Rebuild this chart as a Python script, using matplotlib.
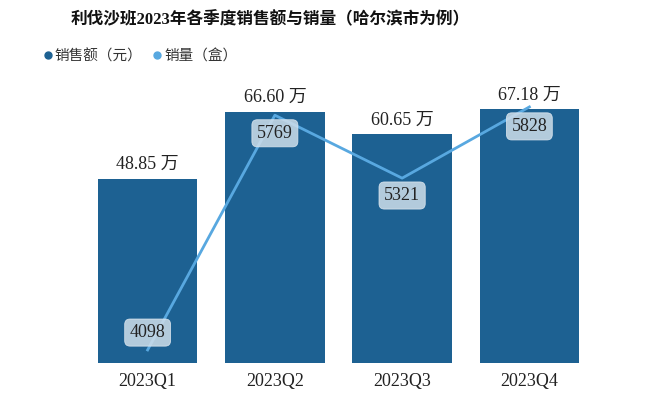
import matplotlib
matplotlib.use("Agg")
import matplotlib.pyplot as plt
from matplotlib.lines import Line2D

plt.rcParams['font.family'] = ['Liberation Serif', 'Noto Sans CJK SC', 'DejaVu Sans']

categories = ['2023Q1', '2023Q2', '2023Q3', '2023Q4']
sales_wan = [48.85, 66.60, 60.65, 67.18]
volume = [4098, 5769, 5321, 5828]
title = '利伐沙班2023年各季度销售额与销量（哈尔滨市为例）'
legend_labels = ['销售额（元）', '销量（盒）']

bar_color = '#1d6192'
line_color = '#58a8e0'
box_color = '#cfdeea'

fig = plt.figure(figsize=(6.51, 3.98), dpi=100)
ax = fig.add_axes([84/651, 35/398, 509/651, 268/398])
x = list(range(len(categories)))
ax.bar(x, sales_wan, width=0.78, color=bar_color, zorder=2)
ax.set_xlim(-0.5, 3.5)
ax.set_ylim(0, 71.0)
ax.set_xticks(x)
ax.set_xticklabels(categories, fontsize=13, color='#222222')
ax.tick_params(axis='x', length=0, pad=7)
ax.set_yticks([])
for s in ax.spines.values():
    s.set_visible(False)

for xi, v in zip(x, sales_wan):
    ax.annotate(f'{v:.2f} 万', (xi, v), xytext=(0, 10), textcoords='offset points',
                ha='center', va='center', fontsize=13, color='#222222')

ax2 = ax.twinx()
ax2.set_ylim(4005, 5913)
ax2.plot(x, volume, color=line_color, lw=2.0, zorder=3)
ax2.set_yticks([])
for s in ax2.spines.values():
    s.set_visible(False)

label_offsets = [12.5, -13, -12.5, -14]
for xi, v, off in zip(x, volume, label_offsets):
    ax2.annotate(f'{v}', (xi, v), xytext=(0, off), textcoords='offset points',
                 ha='center', va='center', fontsize=13, color='#222222',
                 bbox=dict(boxstyle='round,pad=0.28,rounding_size=0.3',
                           fc=box_color, ec='#dfe8f0', lw=0.6, alpha=0.85))

fig.text(270/651, 1 - 20/398, title, ha='center', va='center', fontsize=12,
         fontweight='bold', color='#111111')

handles = [Line2D([], [], marker='o', ls='none', color=bar_color, markersize=5),
           Line2D([], [], marker='o', ls='none', color=line_color, markersize=5)]
fig.legend(handles, legend_labels, loc='center left', bbox_to_anchor=(36/651, 1 - 56/398),
           ncol=2, frameon=False, fontsize=10.5, handletextpad=0.1, columnspacing=0.6,
           handlelength=0.8, borderaxespad=0, labelcolor='#333333')

fig.savefig('out.png', dpi=100)
